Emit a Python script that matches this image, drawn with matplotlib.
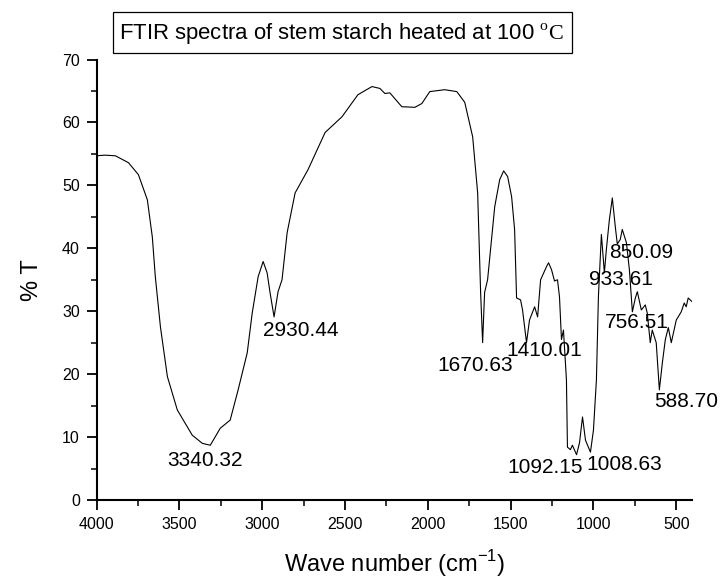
import matplotlib
matplotlib.use("Agg")
import matplotlib.pyplot as plt
from matplotlib.ticker import MultipleLocator
from matplotlib.patches import Rectangle

plt.rcParams['font.family'] = ['Liberation Sans', 'DejaVu Sans']
plt.rcParams['mathtext.fontset'] = 'custom'
plt.rcParams['mathtext.rm'] = 'Liberation Serif'
plt.rcParams['mathtext.sf'] = 'Liberation Sans'

# Data
wavenumber = [4000, 3950, 3886, 3807, 3747, 3693, 3663, 3645, 3614, 3572, 3512, 3422, 3361, 3313,
              3253, 3193, 3145, 3090, 3060, 3024, 2994, 2970, 2952, 2928, 2904, 2880, 2849, 2801,
              2723, 2620, 2518, 2422, 2337, 2289, 2259, 2229, 2157, 2078, 2036, 1988, 1898, 1825,
              1777, 1729, 1699, 1681, 1669, 1657, 1639, 1596, 1566, 1542, 1518, 1494, 1476, 1464,
              1440, 1428, 1404, 1386, 1355, 1337, 1319, 1283, 1271, 1253, 1235, 1217, 1205, 1193,
              1181, 1163, 1157, 1139, 1127, 1102, 1084, 1066, 1048, 1018, 1000, 982, 970, 952,
              934, 922, 904, 886, 868, 856, 838, 826, 801, 783, 765, 747, 735, 711, 687, 675,
              657, 645, 621, 602, 584, 566, 548, 530, 500, 470, 452, 440, 428, 404]
transmittance = [54.7, 54.8, 54.7, 53.6, 51.7, 47.7, 41.8, 35.5, 27.5, 19.6, 14.3, 10.3, 9.0, 8.7,
                 11.4, 12.7, 17.5, 23.4, 29.7, 35.5, 37.9, 36.1, 32.9, 29.1, 33.1, 35.0, 42.5, 48.8,
                 52.5, 58.4, 60.9, 64.4, 65.7, 65.4, 64.6, 64.7, 62.5, 62.4, 63.0, 64.9, 65.2, 64.9,
                 63.2, 57.7, 48.8, 32.9, 25.0, 33.0, 35.0, 46.6, 50.9, 52.3, 51.4, 48.2, 43.0, 32.1,
                 31.8, 30.2, 25.0, 28.6, 30.7, 29.1, 35.0, 37.1, 37.7, 36.6, 34.8, 35.0, 32.3, 25.5,
                 27.0, 19.1, 8.4, 8.0, 8.7, 7.2, 9.1, 13.2, 9.5, 7.6, 11.1, 19.1, 32.3, 42.2,
                 36.1, 39.8, 44.5, 48.0, 43.4, 40.7, 41.4, 43.0, 40.9, 36.6, 29.9, 32.1, 33.1, 30.2, 31.0, 29.7,
                 25.0, 27.0, 25.0, 17.5, 21.8, 25.5, 27.4, 25.0, 28.6, 29.9, 31.3, 30.7, 32.1, 31.5]

peak_labels = ['3340.32', '2930.44', '1670.63', '1410.01', '1092.15', '1008.63',
               '933.61', '850.09', '756.51', '588.70']
label_x = [3343, 2765, 1711, 1295, 1289, 813, 837, 711, 741, 440]
label_y = [6.2, 26.9, 21.3, 23.7, 5.1, 5.6, 35.0, 39.3, 28.2, 15.6]

W, H = 723, 583
fig = plt.figure(figsize=(W / 100, H / 100), dpi=100)
ax = fig.add_axes([96.5 / W, 1 - 500 / H, (692 - 96.5) / W, (500 - 59.5) / H])

ax.plot(wavenumber, transmittance, color='black', linewidth=0.8)

for txt, x, y in zip(peak_labels, label_x, label_y):
    ax.text(x, y, txt, fontsize=15, ha='center', va='center', color='black')

ax.set_xlim(4000, 405)
ax.set_ylim(0, 70)
ax.xaxis.set_major_locator(MultipleLocator(500))
ax.xaxis.set_minor_locator(MultipleLocator(250))
ax.yaxis.set_major_locator(MultipleLocator(10))
ax.yaxis.set_minor_locator(MultipleLocator(5))

for s in ['top', 'right']:
    ax.spines[s].set_visible(False)
for s in ['left', 'bottom']:
    ax.spines[s].set_linewidth(1.5)

ax.tick_params(which='major', direction='out', length=7, width=1.3, labelsize=11.5, pad=5)
ax.tick_params(which='minor', direction='out', length=4, width=1.1)

ax.set_xlabel('Wave number (cm$^{\\mathsf{-1}}$)', fontsize=17, labelpad=12)
ax.set_ylabel('% T', fontsize=17, labelpad=14)

# Title box
bx0, bx1, by0, by1 = 113, 572, 12, 53
fig.patches.append(Rectangle((bx0 / W, 1 - by1 / H), (bx1 - bx0) / W, (by1 - by0) / H,
                             transform=fig.transFigure, facecolor='white',
                             edgecolor='black', linewidth=0.9))
fig.text(119 / W, 1 - 33 / H, 'FTIR spectra of stem starch heated at 100 $^{\\rm o}\\mathrm{C}$',
         fontsize=15.9, ha='left', va='center')

fig.savefig('out.png', dpi=100)
